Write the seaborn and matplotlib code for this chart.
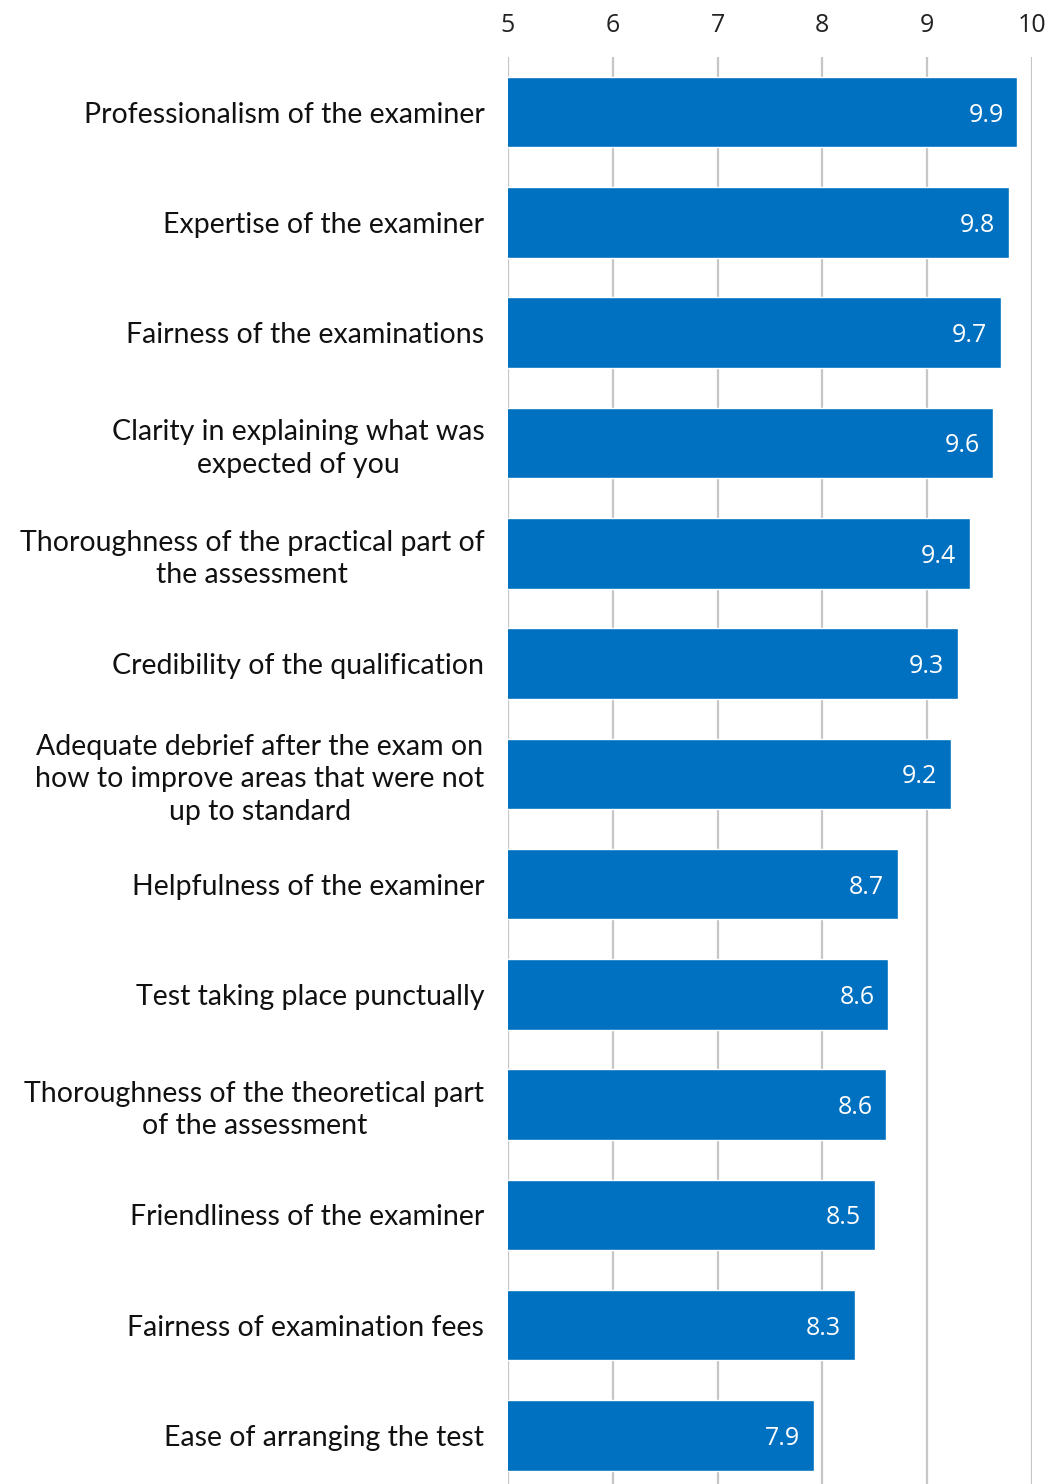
import numpy as np
import pandas as pd
import matplotlib
matplotlib.use('Agg')
import matplotlib.pyplot as plt
import seaborn as sns

categories = [
    'Professionalism of the examiner',
    'Expertise of the examiner',
    'Fairness of the examinations',
    'Clarity in explaining what was\nexpected of you',
    'Thoroughness of the practical part of\nthe assessment',
    'Credibility of the qualification',
    'Adequate debrief after the exam on\nhow to improve areas that were not\nup to standard',
    'Helpfulness of the examiner',
    'Test taking place punctually',
    'Thoroughness of the theoretical part\nof the assessment',
    'Friendliness of the examiner',
    'Fairness of examination fees',
    'Ease of arranging the test',
]
scores = [9.86, 9.78, 9.70, 9.63, 9.41, 9.29, 9.23, 8.72, 8.63, 8.61, 8.50, 8.31, 7.92]
x_ticks = [5, 6, 7, 8, 9, 10]

df = pd.DataFrame({'item': categories, 'score': scores})

sns.set_style('white')
plt.rcParams['font.family'] = ['Lato', 'DejaVu Sans']

fig = plt.figure(figsize=(10.53, 14.84), dpi=100)
ax = fig.add_axes([0.4824, 0.0, 0.4976, 0.9616])

sns.barplot(data=df, y='item', x='score', orient='h', color='#0070C0',
            saturation=1, width=0.64, ax=ax)
ax.set_xlim(5, 10)
ax.set_ylim(12.44, -0.5)

# value labels inside the bar end
for i, v in enumerate(scores):
    ax.text(v - 0.13, i, f'{v:.1f}', ha='right', va='center_baseline',
            color='white', fontsize=18, family=['Open Sans', 'DejaVu Sans'])

ax.xaxis.tick_top()
ax.set_xticks(x_ticks)
ax.tick_params(axis='x', length=0, pad=14, labelsize=18, labelcolor='#222222')
for lab in ax.get_xticklabels():
    lab.set_family(['Open Sans', 'DejaVu Sans'])
ax.tick_params(axis='y', length=0, pad=17, labelsize=20.5, labelcolor='#111111')
for lab in ax.get_yticklabels():
    lab.set_linespacing(1.3)
    lab.set_horizontalalignment('right')
    lab.set_multialignment('center')
ax.set_xlabel('')
ax.set_ylabel('')
ax.grid(axis='x', color='#c6c6c6', linewidth=1.6)
ax.set_axisbelow(True)
for s in ax.spines.values():
    s.set_visible(False)

fig.savefig('out.png', dpi=100)
